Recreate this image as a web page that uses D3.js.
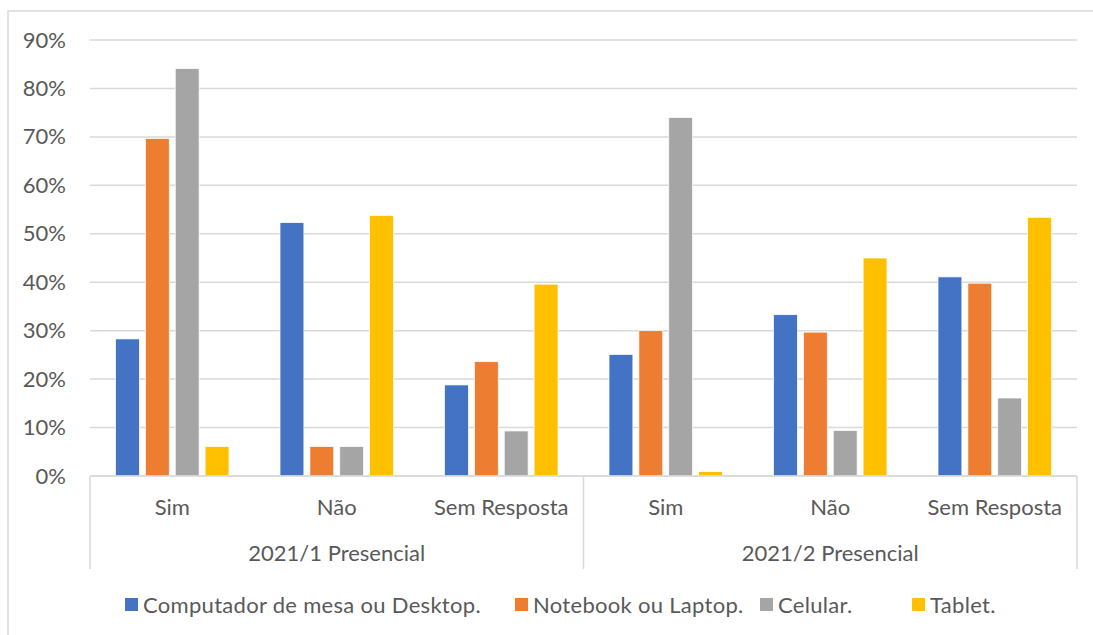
<!DOCTYPE html>
<html>
<head>
<meta charset="utf-8">
<script src="https://cdn.jsdelivr.net/npm/d3@7"></script>
<style>
  body { margin: 0; background: #fff; }
  svg text { font-family: Lato, "Open Sans", sans-serif; fill: #595959; }
</style>
</head>
<body>
<svg id="chart" width="1093" height="635"></svg>
<script>
// data
var groups = ['2021/1 Presencial', '2021/2 Presencial'];
var answers = ['Sim', 'Não', 'Sem Resposta'];
var seriesNames = ['Computador de mesa ou Desktop.', 'Notebook ou Laptop.', 'Celular.', 'Tablet.'];
var seriesColors = ['#4472c4', '#ed7d31', '#a5a5a5', '#ffc000'];
var desktop = [0.283, 0.523, 0.188, 0.251, 0.333, 0.411];
var notebook = [0.697, 0.061, 0.236, 0.300, 0.297, 0.398];
var celular = [0.841, 0.061, 0.093, 0.740, 0.094, 0.161];
var tablet = [0.061, 0.538, 0.396, 0.009, 0.450, 0.534];
var yTicks = [0, 0.1, 0.2, 0.3, 0.4, 0.5, 0.6, 0.7, 0.8, 0.9];

var allSeries = [desktop, notebook, celular, tablet];

var svg = d3.select('#chart');
var plotL = 90, plotR = 1077, plotT = 40, plotB = 476;
var fontSize = '22px';

// outer frame (only top and left are visible in the crop)
svg.append('rect')
  .attr('x', 8).attr('y', 11)
  .attr('width', 1200).attr('height', 700)
  .style('fill', 'none')
  .attr('stroke', '#d9d9d9')
  .attr('stroke-width', 1.5);

var y = d3.scaleLinear().domain([0, 0.9]).range([plotB, plotT]);

// category slots: group x answer
var slots = [];
groups.forEach(function(g, gi) {
  answers.forEach(function(a, ai) { slots.push(gi * answers.length + ai); });
});
var x = d3.scaleBand().domain(slots).range([plotL, plotR]).paddingInner(0).paddingOuter(0);
var xs = d3.scaleBand().domain(d3.range(seriesNames.length))
  .range([25.5, x.bandwidth() - 25.5]).paddingInner(0.2).paddingOuter(0);

// gridlines
svg.append('g').selectAll('line')
  .data(yTicks)
  .enter()
  .append('line')
  .attr('x1', plotL).attr('x2', plotR)
  .attr('y1', function(d) { return y(d); })
  .attr('y2', function(d) { return y(d); })
  .attr('stroke', '#d9d9d9')
  .attr('stroke-width', 1.5);

// y axis labels
var yAxis = d3.axisLeft(y).tickValues(yTicks).tickSize(0).tickPadding(24)
  .tickFormat(d3.format('.0%'));
var yg = svg.append('g').attr('transform', 'translate(' + plotL + ',0)').call(yAxis);
yg.select('.domain').remove();
yg.selectAll('text')
  .style('font-size', fontSize)
  .style('font-family', 'Lato, sans-serif')
  .attr('fill', '#595959');

// bars
allSeries.forEach(function(vals, si) {
  svg.append('g').selectAll('rect')
    .data(vals)
    .enter()
    .append('rect')
    .attr('x', function(d, i) { return x(i) + xs(si); })
    .attr('y', function(d) { return y(d); })
    .attr('width', xs.bandwidth())
    .attr('height', function(d) { return plotB - y(d); })
    .style('fill', seriesColors[si])
    .attr('stroke', '#fff')
    .attr('stroke-width', 0.75);
});

// category axis lines
svg.append('line')
  .attr('x1', plotL).attr('x2', plotR)
  .attr('y1', plotB).attr('y2', plotB)
  .attr('stroke', '#d9d9d9').attr('stroke-width', 1.5);
var groupW = (plotR - plotL) / groups.length;
svg.append('g').selectAll('line')
  .data(d3.range(groups.length + 1))
  .enter()
  .append('line')
  .attr('x1', function(d) { return plotL + d * groupW; })
  .attr('x2', function(d) { return plotL + d * groupW; })
  .attr('y1', plotB).attr('y2', 569)
  .attr('stroke', '#d9d9d9').attr('stroke-width', 1.5);

// answer labels
svg.append('g').selectAll('text')
  .data(slots)
  .enter()
  .append('text')
  .attr('x', function(d) { return x(d) + x.bandwidth() / 2; })
  .attr('y', 515)
  .attr('text-anchor', 'middle')
  .style('font-size', fontSize)
  .text(function(d) { return answers[d % answers.length]; });

// group labels
svg.append('g').selectAll('text')
  .data(groups)
  .enter()
  .append('text')
  .attr('x', function(d, i) { return plotL + (i + 0.5) * groupW; })
  .attr('y', 561)
  .attr('text-anchor', 'middle')
  .style('font-size', fontSize)
  .text(function(d) { return d; });

// legend (swatch left edges as laid out in the original)
var legendX = [125, 515, 760, 912];
var legend = svg.append('g').attr('transform', 'translate(0,605)');
seriesNames.forEach(function(name, i) {
  legend.append('rect')
    .attr('x', legendX[i]).attr('y', -7)
    .attr('width', 13).attr('height', 13)
    .style('fill', seriesColors[i]);
  legend.append('text')
    .attr('x', legendX[i] + 18).attr('y', 8)
    .style('font-size', fontSize)
    .style('letter-spacing', '0.3px')
    .text(name);
});
</script>
</body>
</html>
